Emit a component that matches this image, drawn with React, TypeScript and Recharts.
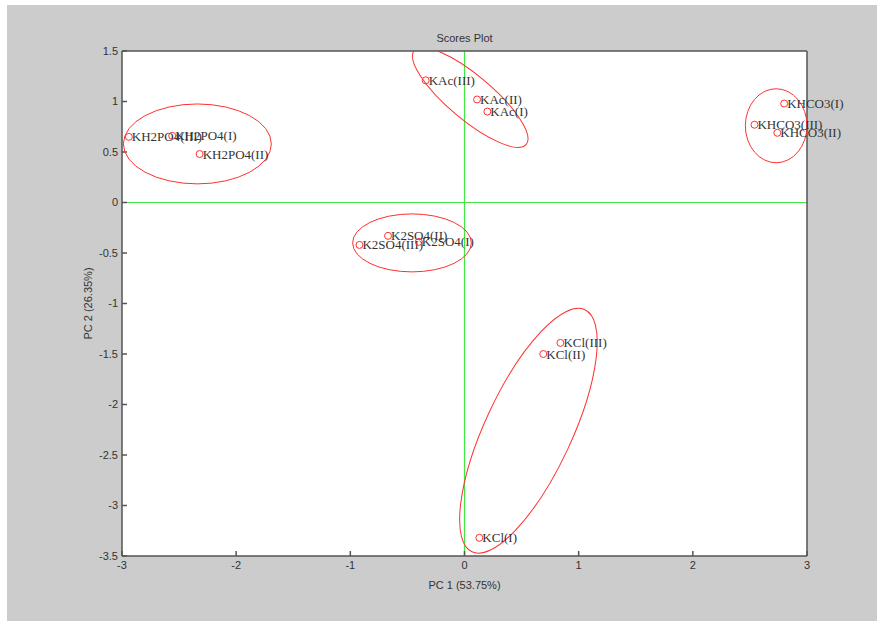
import React from "react";
import {
  CartesianGrid,
  ReferenceLine,
  Scatter,
  ScatterChart,
  XAxis,
  YAxis,
} from "recharts";

// scores
const NAMES = [
  "KH2PO4(III)", "KH2PO4(I)", "KH2PO4(II)",
  "KAc(III)", "KAc(II)", "KAc(I)",
  "KHCO3(I)", "KHCO3(III)", "KHCO3(II)",
  "K2SO4(II)", "K2SO4(III)", "K2SO4(I)",
  "KCl(III)", "KCl(II)", "KCl(I)",
];
const PC1 = [-2.94, -2.56, -2.32, -0.34, 0.11, 0.2, 2.8, 2.54, 2.74, -0.67, -0.92, -0.4, 0.84, 0.69, 0.13];
const PC2 = [0.65, 0.66, 0.48, 1.21, 1.02, 0.9, 0.98, 0.77, 0.69, -0.33, -0.42, -0.39, -1.39, -1.5, -3.32];

// group ellipses: centre, semi-axes (in PC1 units), tilt in degrees
const ELL_X = [-2.34, 0.05, 2.73, -0.46, 0.56];
const ELL_Y = [0.58, 1.04, 0.76, -0.4, -2.26];
const ELL_A = [0.648, 0.64, 0.27, 0.52, 1.17];
const ELL_B = [0.35, 0.193, 0.324, 0.254, 0.38];
const ELL_ROT = [0, 40, 0, 0, -65];

const X_TICKS = [-3, -2, -1, 0, 1, 2, 3];
const Y_TICKS = [-3.5, -3, -2.5, -2, -1.5, -1, -0.5, 0, 0.5, 1, 1.5];
const X_DOMAIN: [number, number] = [-3, 3];
const Y_DOMAIN: [number, number] = [-3.5, 1.5];

const TITLE = "Scores Plot";
const X_LABEL = "PC 1 (53.75%)";
const Y_LABEL = "PC 2 (26.35%)";

const W = 877;
const H = 621;
const PLOT_LEFT = 122;
const PLOT_RIGHT = 807;
const PLOT_TOP = 51;
const PLOT_BOTTOM = 556;
const PX_PER_X = (PLOT_RIGHT - PLOT_LEFT) / (X_DOMAIN[1] - X_DOMAIN[0]);

const SANS = "'Liberation Sans', Arial, sans-serif";
const SERIF = "'Liberation Serif', 'Times New Roman', serif";
const AXIS = "#555555";

const points = NAMES.map((name, i) => ({ name, x: PC1[i], y: PC2[i] }));
const ellipses = ELL_X.map((x, i) => ({
  x,
  y: ELL_Y[i],
  a: ELL_A[i],
  b: ELL_B[i],
  rot: ELL_ROT[i],
}));

const PointShape = (props: any) => {
  const { cx, cy, payload } = props;
  return (
    <g>
      <circle cx={cx} cy={cy} r={3.5} fill="none" stroke="#ff3030" strokeWidth={1} />
      <text
        x={cx + 3}
        y={cy}
        dominantBaseline="central"
        fontFamily={SERIF}
        fontSize={13}
        fill="#333"
      >
        {payload.name}
      </text>
    </g>
  );
};

const EllipseShape = (props: any) => {
  const { cx, cy, payload } = props;
  return (
    <ellipse
      cx={cx}
      cy={cy}
      rx={payload.a * PX_PER_X}
      ry={payload.b * PX_PER_X}
      transform={`rotate(${payload.rot} ${cx} ${cy})`}
      fill="none"
      stroke="#ff3030"
      strokeWidth={1}
    />
  );
};

const tickStyle = { fill: "#333", fontSize: 11, fontFamily: SANS };

export default function App() {
  return (
    <div style={{ position: "fixed", left: 0, top: 0, width: W, height: H, background: "#fff" }}>
      <div style={{ position: "absolute", left: 7, top: 5, right: 0, bottom: 0, background: "#cccccc" }} />
      <div style={{ position: "absolute", left: 0, top: 0 }}>
        <ScatterChart
          width={W}
          height={H}
          margin={{ top: PLOT_TOP - 1, right: W - PLOT_RIGHT - 1, bottom: H - PLOT_BOTTOM - 38, left: PLOT_LEFT - 40 }}
        >
          <CartesianGrid fill="#ffffff" horizontal={false} vertical={false} stroke="none" />
          <XAxis
            type="number"
            dataKey="x"
            domain={X_DOMAIN}
            ticks={X_TICKS}
            interval={0}
            tickSize={-5}
            tickMargin={10}
            stroke={AXIS}
            strokeWidth={1.5}
            tick={tickStyle}
            height={38}
            label={{ value: X_LABEL, position: "insideBottom", offset: 5, fill: "#333", fontSize: 11, fontFamily: SANS }}
          />
          <XAxis
            xAxisId="top"
            orientation="top"
            type="number"
            dataKey="x"
            domain={X_DOMAIN}
            ticks={X_TICKS}
            interval={0}
            allowDataOverflow
            tick={false}
            tickSize={-5}
            stroke={AXIS}
            strokeWidth={1.5}
            height={1}
            label={{ value: TITLE, position: "top", offset: 8, fill: "#333", fontSize: 11, fontFamily: SANS }}
          />
          <YAxis
            type="number"
            dataKey="y"
            domain={Y_DOMAIN}
            ticks={Y_TICKS}
            interval={0}
            tickSize={-5}
            tickMargin={9}
            stroke={AXIS}
            strokeWidth={1.5}
            tick={tickStyle}
            width={40}
            label={{
              value: Y_LABEL,
              angle: -90,
              position: "insideLeft",
              offset: 6,
              fill: "#333",
              fontSize: 11,
              fontFamily: SANS,
              style: { textAnchor: "middle" },
            }}
          />
          <YAxis
            yAxisId="right"
            orientation="right"
            type="number"
            dataKey="y"
            domain={Y_DOMAIN}
            ticks={Y_TICKS}
            interval={0}
            allowDataOverflow
            tick={false}
            tickSize={-5}
            stroke={AXIS}
            strokeWidth={1.5}
            width={1}
          />
          <ReferenceLine x={0} stroke="#44e844" strokeWidth={1.2} />
          <ReferenceLine y={0} stroke="#44e844" strokeWidth={1.2} />
          <Scatter
            data={ellipses}
            xAxisId="top"
            yAxisId="right"
            shape={EllipseShape}
            isAnimationActive={false}
          />
          <Scatter data={points} shape={PointShape} isAnimationActive={false} />
        </ScatterChart>
      </div>
    </div>
  );
}
